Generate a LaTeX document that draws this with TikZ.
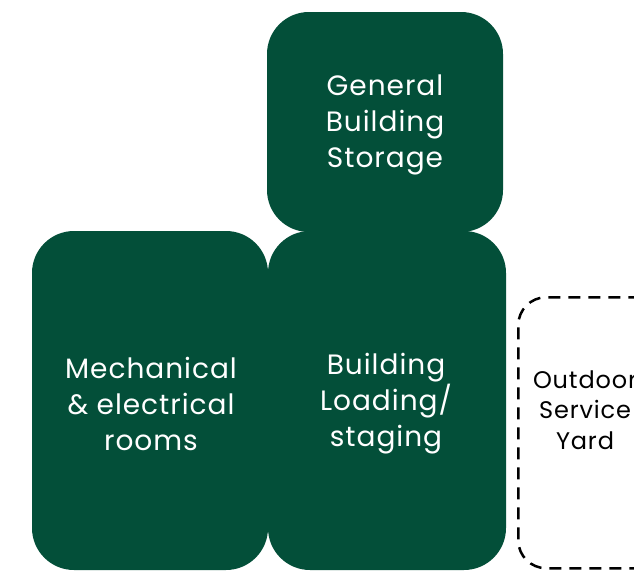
\documentclass[tikz,border=0pt]{standalone}
\usepackage{fontspec}
\setmainfont{Poppins}[LetterSpace=3.5]
\definecolor{fgreen}{RGB}{3,79,57}
\tikzset{
  room/.style={fill=fgreen, rounded corners=42pt, minimum width=236pt, inner sep=0pt,
    text=white, align=center, font=\fontsize{28}{36}\selectfont},
  roomtext/.style={text=white, align=center, font=\fontsize{28}{36}\selectfont, inner sep=0pt},
  yard/.style={draw=black, dash pattern=on 12pt off 8pt, line width=2.5pt, rounded corners=28pt,
    inner sep=0pt},
  yardtext/.style={text=black, align=center, font=\fontsize{24}{30.5}\selectfont, inner sep=0pt}
}
\begin{document}
\begin{tikzpicture}[x=1pt,y=-1pt]
\useasboundingbox (0,0) rectangle (634,570);
\clip (0,0) rectangle (634,570);
\fill[white] (0,0) rectangle (634,570);
\node[room, minimum height=220pt] (storage) at (385,122) {};
\node[roomtext] (storagelabel) at (385,125) {General\\Building\\Storage};
\node[room, minimum height=339pt] (mech) at (150,400.5) {};
\node[room, minimum height=339pt, minimum width=238pt] (load) at (387,400.5) {};
\node[roomtext] (mechlabel) at (151,404) {Mechanical\\\& electrical\\rooms};
\node[roomtext] (loadlabel) at (386,404) {Building\\Loading/\\staging};
\node[yard, minimum width=150pt, minimum height=271pt, anchor=north west] (yard) at (517,296) {};
\node[yardtext] (yardlabel) at (585,410) {Outdoor\\Service\\Yard};
\end{tikzpicture}
\end{document}
